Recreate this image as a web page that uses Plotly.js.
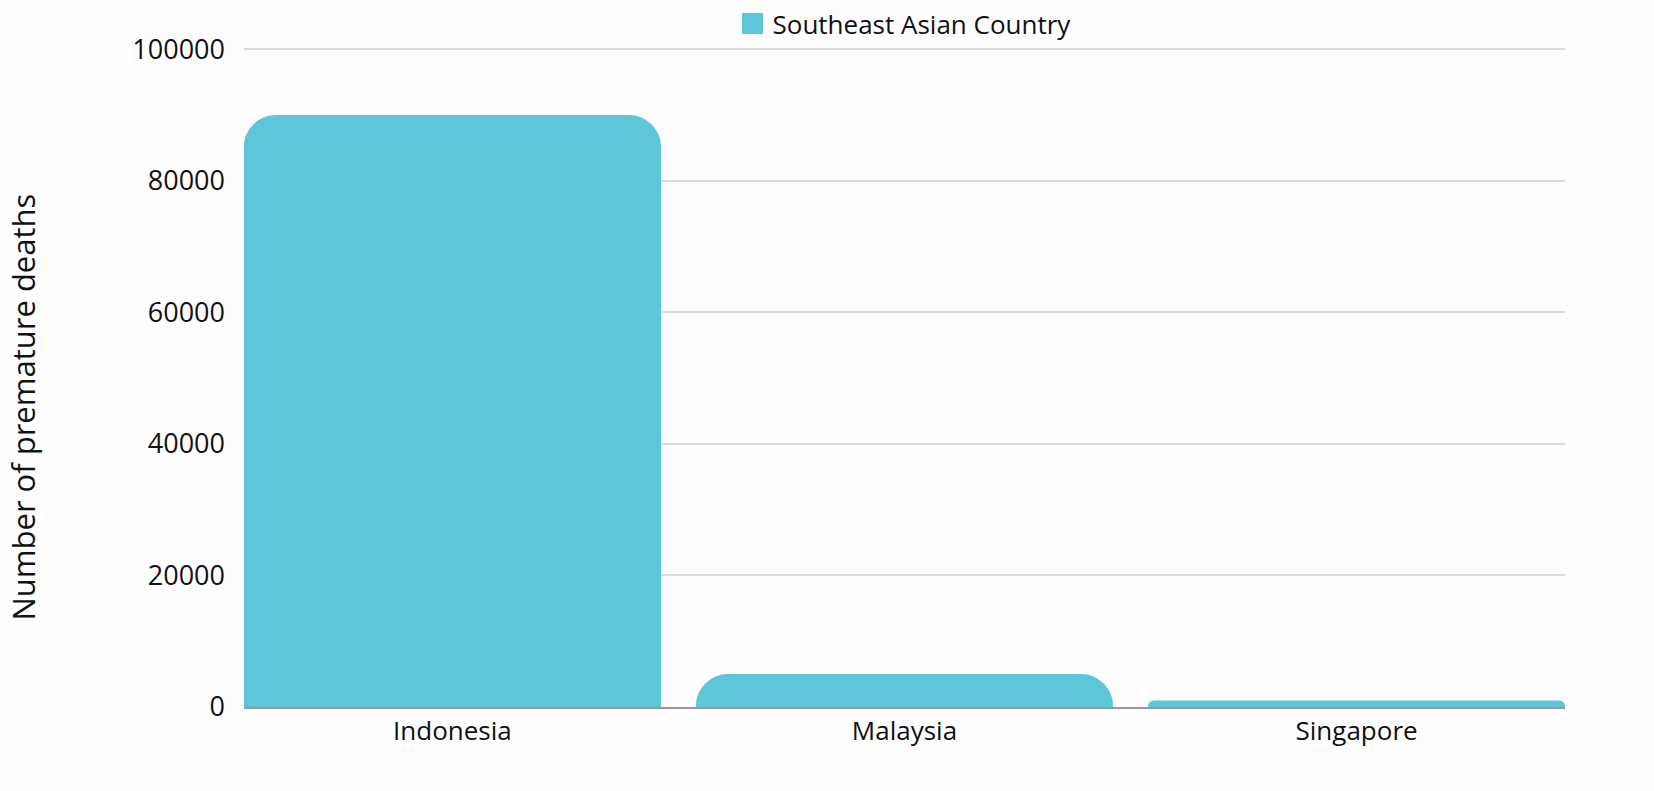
<!DOCTYPE html>
<html>
<head>
<meta charset="utf-8">
<script src="https://cdn.plot.ly/plotly-3.0.1.min.js"></script>
<style>
  html, body { margin: 0; padding: 0; background: #fdfdfd; }
  #plot { width: 1654px; height: 791px; }
</style>
</head>
<body>
<div id="plot"></div>
<script>
// premature deaths by country
var countries = ['Indonesia', 'Malaysia', 'Singapore'];
var deaths = [90000, 5000, 1000];
var yTicks = [0, 20000, 40000, 60000, 80000, 100000];
var seriesName = 'Southeast Asian Country';
var yTitle = 'Number of premature deaths';
var barColor = '#5dc6d8';

var bars = {
  type: 'bar',
  x: countries,
  y: deaths,
  name: seriesName,
  showlegend: false,
  marker: { color: barColor, cornerradius: 32 },
  hoverinfo: 'x+y'
};

// legend-only entry so the swatch is a big square like the original
var legendKey = {
  type: 'scatter',
  mode: 'markers',
  x: [null],
  y: [null],
  name: seriesName,
  marker: { color: barColor, symbol: 'square', size: 28, line: { color: barColor, width: 6 } },
  hoverinfo: 'skip'
};

var layout = {
  width: 1654,
  height: 791,
  paper_bgcolor: '#fdfdfd',
  plot_bgcolor: '#fdfdfd',
  font: { family: 'Open Sans, Noto Sans, sans-serif', color: '#111', size: 26 },
  margin: { l: 244, r: 89, t: 48, b: 84 },
  bargap: 0.077,
  showlegend: true,
  legend: {
    orientation: 'h',
    xref: 'paper', x: 0.5, xanchor: 'center',
    yref: 'container', y: 1.0, yanchor: 'top',
    font: { size: 26 },
    itemsizing: 'trace'
  },
  xaxis: {
    range: [-0.461, 2.461],
    showgrid: false,
    showline: true,
    linecolor: '#999',
    linewidth: 1.5,
    ticks: '',
    tickfont: { size: 26 }
  },
  yaxis: {
    range: [0, 100200],
    tickvals: yTicks,
    ticktext: yTicks.map(String),
    showgrid: true,
    gridcolor: '#dcdcdc',
    gridwidth: 1.5,
    zeroline: false,
    ticks: '',
    ticklabelstandoff: 18,
    tickfont: { size: 27 }
  },
  // y title sits a little below the plot's middle in the original
  annotations: [{
    text: yTitle,
    xref: 'paper', yref: 'paper',
    x: -0.167, y: 0.455,
    xanchor: 'center', yanchor: 'middle',
    textangle: -90,
    showarrow: false,
    font: { size: 31 }
  }]
};

Plotly.newPlot('plot', [bars, legendKey], layout, { displayModeBar: false });
</script>
</body>
</html>
